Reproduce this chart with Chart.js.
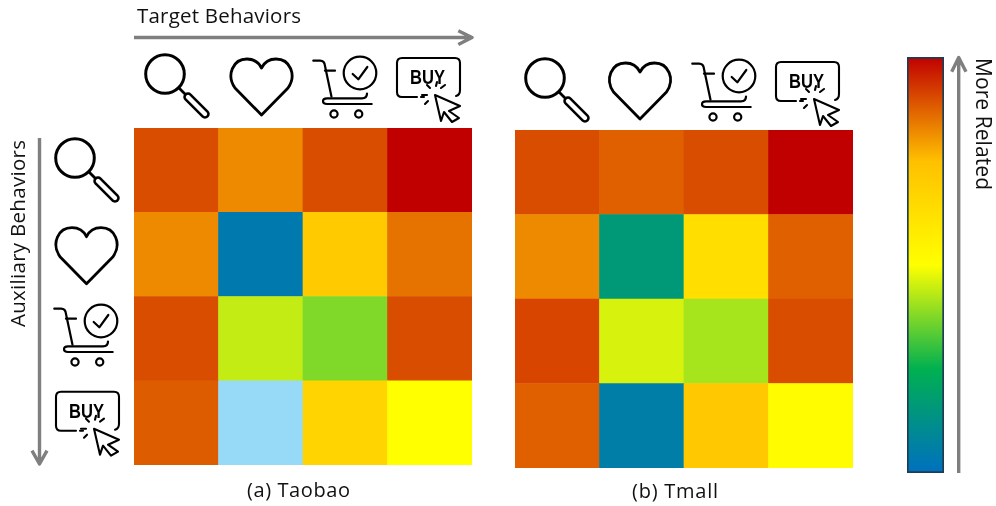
<!DOCTYPE html>
<html>
<head>
<meta charset="utf-8">
<script src="https://cdn.jsdelivr.net/npm/chart.js@4"></script>
<style>
html,body{margin:0;padding:0;background:#fff;width:996px;height:506px;overflow:hidden}
canvas{position:absolute;display:block}
svg{position:absolute;left:0;top:0}
text{font-family:"Open Sans","Noto Sans",sans-serif;fill:#111}
</style>
</head>
<body>
<canvas id="taobao" style="left:134px;top:128px;width:338px;height:337px"></canvas>
<canvas id="tmall" style="left:515px;top:130px;width:338px;height:338px"></canvas>
<canvas id="scale" style="left:907px;top:57px;width:37px;height:416px"></canvas>
<svg id="overlay" width="996" height="506" viewBox="0 0 996 506">
<defs>
<g id="icoSearch" fill="none" stroke="#000" stroke-linecap="round" stroke-linejoin="round">
<circle cx="165" cy="74" r="19.3" stroke-width="3"/>
<path d="M179 88L186 95" stroke-width="2.8"/>
<path d="M188 97L205 114" stroke-width="9.5"/>
<path d="M188 97L205 114" stroke="#fff" stroke-width="4.4"/>
</g>
<g id="icoHeart" fill="none" stroke="#000" stroke-width="2.8" stroke-linejoin="round">
<path d="M261.5 115L235 88C226 75 233 59 247 59C254 59 259 63 261.5 68C264 63 269 59 276 59C290 59 297 75 288 88Z"/>
</g>
<g id="icoCart" fill="none" stroke="#000" stroke-width="2.2" stroke-linecap="round" stroke-linejoin="round">
<circle cx="360" cy="73" r="16.3"/>
<path d="M352.7 74L358.3 79.3L367.3 67"/>
<path d="M313.3 60.7H320Q324.5 60.7 325 66L331.5 96.7"/>
<path d="M325 70.7H335"/>
<path d="M367 93.5Q367 98.3 362 98.3H327Q323 98.3 323 101.3Q323 104 327 104H371.7"/>
<circle cx="334" cy="114" r="3.6"/>
<circle cx="358.7" cy="114" r="3.6"/>
</g>
<g id="icoBuy" fill="none" stroke="#000" stroke-width="2.1" stroke-linecap="round" stroke-linejoin="round">
<path d="M417 97H402Q397 97 397 92V63Q397 58 402 58H455Q460 58 460 63V90Q460 95 456 96"/>
<path d="M421 97H424"/>
<text x="427.5" y="84" text-anchor="middle" font-size="19.5" stroke="none" style="fill:#000;font-family:'Liberation Sans',sans-serif;font-weight:700" textLength="35" lengthAdjust="spacingAndGlyphs">BUY</text>
<path d="M435 95L460 106L449 111L459 118L452 122L444 112L441 121Z" fill="#fff"/>
<path d="M430 88L427 85M436 86L437 82M441 88L445 85M427 95L422 95M428 101L425 104"/>
</g>
</defs>
<g fill="none" stroke="#7f7f7f" stroke-width="3.4" stroke-linejoin="round">
<path d="M134 37.5H471M458.3 30.7L472 37.5L458.3 44.5"/>
<path d="M39.5 138V463M32 450.7L39.5 464L47 450.7"/>
<path d="M958.7 473V58M951.7 71.7L958.7 57.5L966 71.7"/>
</g>
<use href="#icoSearch"/><use href="#icoHeart"/><use href="#icoCart"/><use href="#icoBuy"/>
<use href="#icoSearch" transform="translate(380,4)"/><use href="#icoHeart" transform="translate(378.5,4)"/><use href="#icoCart" transform="translate(379,3)"/><use href="#icoBuy" transform="translate(379,4)"/>
<use href="#icoSearch" transform="translate(-90,84)"/><use href="#icoHeart" transform="translate(-175,168.7)"/><use href="#icoCart" transform="translate(-259,248)"/><use href="#icoBuy" transform="translate(-341,333.7)"/>
<text x="137" y="23" font-size="20.5" textLength="164">Target Behaviors</text>
<text transform="translate(24.5,327) rotate(-90)" font-size="20.5" textLength="187">Auxiliary Behaviors</text>
<text transform="translate(976,58) rotate(90)" font-size="21" textLength="132">More Related</text>
<text x="247" y="497" font-size="20" textLength="103">(a) Taobao</text>
<text x="632" y="498" font-size="20" textLength="86">(b) Tmall</text>
</svg>
<script>
const behaviors = ["Search", "Favorite", "Cart", "Buy"];
const taobaoValues = [
  [0.90, 0.82, 0.90, 1.00],
  [0.82, 0.04, 0.71, 0.85],
  [0.90, 0.44, 0.375, 0.90],
  [0.88, -0.20, 0.67, 0.50]
];
const tmallValues = [
  [0.90, 0.875, 0.90, 1.00],
  [0.82, 0.16, 0.63, 0.875],
  [0.91, 0.46, 0.413, 0.90],
  [0.875, 0.054, 0.72, 0.51]
];
const scaleRange = [0, 1];
const colorStops = [
  [-0.20, [150, 218, 247]],
  [0.00, [0, 112, 192]],
  [0.25, [0, 176, 80]],
  [0.50, [255, 255, 0]],
  [0.75, [255, 192, 0]],
  [1.00, [192, 0, 0]]
];

function colorFor(v) {
  for (let i = 1; i < colorStops.length; i++) {
    const [a, ca] = colorStops[i - 1], [b, cb] = colorStops[i];
    if (v <= b) {
      const t = Math.max(0, (v - a) / (b - a));
      return "rgb(" + ca.map((c, k) => Math.round(c + (cb[k] - c) * t)).join(",") + ")";
    }
  }
  return "rgb(192,0,0)";
}

function heatmap(id, values) {
  const cells = [];
  values.forEach((row, r) => row.forEach((v, c) => cells.push({ x: behaviors[c], y: [r, r + 1], v })));
  new Chart(document.getElementById(id), {
    type: "bar",
    data: {
      labels: behaviors,
      datasets: [{
        data: cells,
        backgroundColor: ctx => colorFor(ctx.raw.v),
        borderWidth: 0,
        categoryPercentage: 1,
        barPercentage: 1
      }]
    },
    options: {
      responsive: false,
      animation: false,
      layout: { padding: 0 },
      plugins: { legend: { display: false }, tooltip: { enabled: false } },
      scales: {
        x: { display: false },
        y: { display: false, min: 0, max: values.length, reverse: true }
      }
    }
  });
}

function sizeCanvas(id) {
  const el = document.getElementById(id);
  el.width = parseInt(el.style.width);
  el.height = parseInt(el.style.height);
}
["taobao", "tmall", "scale"].forEach(sizeCanvas);

heatmap("taobao", taobaoValues);
heatmap("tmall", tmallValues);

new Chart(document.getElementById("scale"), {
  type: "bar",
  data: {
    labels: ["Relatedness"],
    datasets: [{
      data: [scaleRange],
      backgroundColor: ctx => {
        const area = ctx.chart.chartArea;
        if (!area) return "#888";
        const g = ctx.chart.ctx.createLinearGradient(0, area.bottom, 0, area.top);
        colorStops.filter(s => s[0] >= 0).forEach(s => g.addColorStop(s[0], "rgb(" + s[1].join(",") + ")"));
        return g;
      },
      borderColor: "#1f3d52",
      borderWidth: 2,
      borderSkipped: false,
      categoryPercentage: 1,
      barPercentage: 1
    }]
  },
  options: {
    responsive: false,
    animation: false,
    layout: { padding: 0 },
    plugins: { legend: { display: false }, tooltip: { enabled: false } },
    scales: {
      x: { display: false },
      y: { display: false, min: scaleRange[0], max: scaleRange[1] }
    }
  }
});
</script>
</body>
</html>
